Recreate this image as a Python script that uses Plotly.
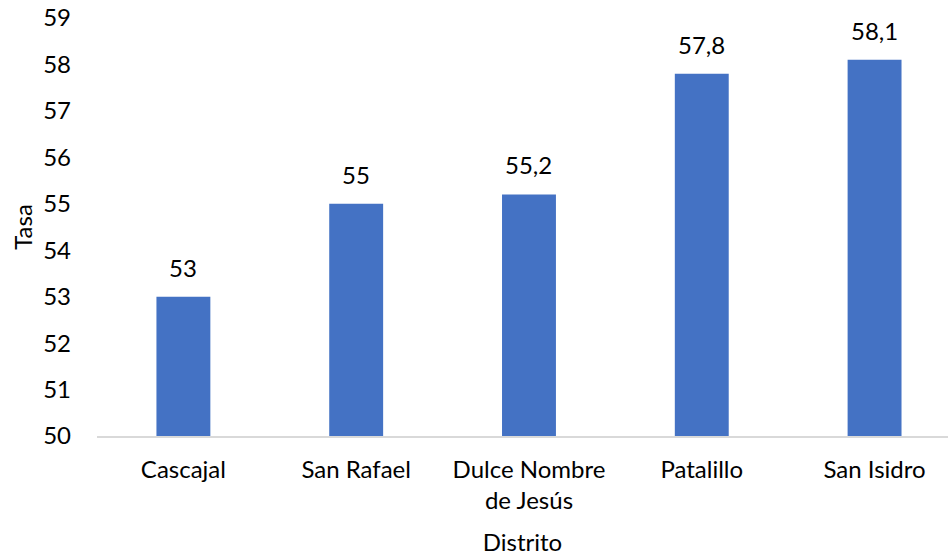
import plotly.graph_objects as go

categories = ["Cascajal", "San Rafael", "Dulce Nombre<br>de Jesús", "Patalillo", "San Isidro"]
values = [53, 55, 55.2, 57.8, 58.1]
value_labels = ["53", "55", "55,2", "57,8", "58,1"]
y_ticks = list(range(50, 60))

FONT = "Lato"
FS = 24
fig = go.Figure(go.Bar(
    x=list(range(len(categories))), y=[v - 50 for v in values], base=50,
    marker=dict(color="#4472C4", line=dict(width=0)), width=0.312,
    hoverinfo="skip",
))

for i, (v, lab) in enumerate(zip(values, value_labels)):
    fig.add_annotation(x=i, y=v, text=lab, showarrow=False, yanchor="bottom",
                       yshift=13, font=dict(family=FONT, size=FS, color="#000"))

fig.update_layout(
    width=950, height=556,
    margin=dict(l=96.6, r=2, t=18, b=119.5),
    plot_bgcolor="white", paper_bgcolor="white",
    showlegend=False,
    font=dict(family=FONT, size=FS, color="#000"),
    xaxis=dict(
        tickmode="array", tickvals=list(range(len(categories))), ticktext=categories,
        range=[-0.5, 4.425], showline=True, linecolor="#D9D9D9", linewidth=1.5,
        ticks="", ticklabelstandoff=11, showgrid=False, zeroline=False,
        automargin=False,
        title=dict(text="Distrito", standoff=23, font=dict(size=FS)),
    ),
    yaxis=dict(
        range=[50, 59], tickmode="array", tickvals=y_ticks,
        showline=False, showgrid=False, zeroline=False, ticks="",
        ticklabelstandoff=25, automargin=False, ticklabeloverflow="allow",
        title=dict(text="Tasa", standoff=3, font=dict(size=FS)),
    ),
)

fig.write_html("out.html", config={"displayModeBar": False},
               post_script="document.body.style.margin='0';")
